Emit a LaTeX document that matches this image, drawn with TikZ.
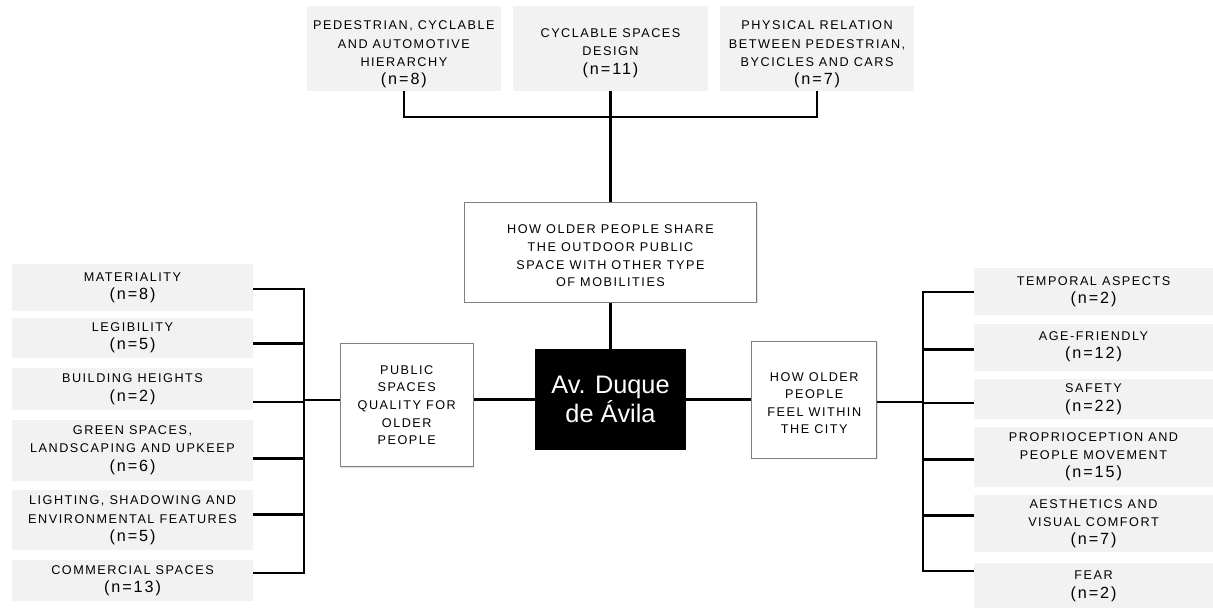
\documentclass[tikz,border=0pt]{standalone}
\usepackage{fontspec}
\setmainfont{Liberation Sans}
\newfontfamily\capsfont{Liberation Sans}[LetterSpace=12]
\usetikzlibrary{positioning, shadows}
\definecolor{itemGray}{RGB}{242, 242, 242}
\definecolor{frameGray}{RGB}{128, 128, 128}
\newcommand{\cnt}[1]{{\fontsize{11.5}{13}\selectfont (n=#1)}}
\newcommand{\pad}[1]{\rule{0pt}{#1}}

\begin{document}
\begin{tikzpicture}[
        x=0.025cm, y=-0.025cm,
        item/.style={rectangle, fill=itemGray, text=black, align=center, inner sep=0pt, font=\capsfont\fontsize{9}{13}\selectfont},
        topitem/.style={item, minimum width=4.85cm, minimum height=2.1cm},
        cat/.style={rectangle, draw=frameGray, fill=white, line width=0.6pt, align=center, inner sep=0pt, text=black, font=\capsfont\fontsize{9}{12.5}\selectfont, drop shadow={shadow xshift=0.8pt, shadow yshift=-0.8pt, opacity=0.25}},
        hub/.style={rectangle, fill=black, text=white, minimum width=3.775cm, minimum height=2.525cm, align=center, font=\fontsize{18}{21}\selectfont},
        conn/.style={line width=1.9pt, black}
    ]
        \useasboundingbox (0,0) rectangle (1213,607);

        % Centre
        \node[hub] (av) at (610.5,399.5) {Av. Duque\\de Ávila};
        \node[cat, minimum width=7.3cm, minimum height=2.5cm, above=1.15cm of av] (share) {\pad{11.5pt}HOW OLDER PEOPLE SHARE\\THE OUTDOOR PUBLIC\\SPACE WITH OTHER TYPE\\OF MOBILITIES};
        \node[cat, minimum width=3.325cm, minimum height=3.075cm, left=1.525cm of av, yshift=-4pt] (pub) {PUBLIC\\SPACES\\QUALITY FOR\\OLDER\\PEOPLE};
        \node[cat, minimum width=3.125cm, minimum height=2.925cm, right=1.625cm of av] (feel) {\pad{11.5pt}HOW OLDER\\PEOPLE\\FEEL WITHIN\\THE CITY};

        % Mobilities
        \node[topitem, above=2.775cm of share] (cyc) {\pad{13pt}CYCLABLE SPACES\\DESIGN\\\cnt{11}};
        \node[topitem, left=0.3cm of cyc] (hier) {\pad{15pt}PEDESTRIAN, CYCLABLE\\AND AUTOMOTIVE\\HIERARCHY\\\cnt{8}};
        \node[topitem, right=0.3cm of cyc] (phys) {\pad{15pt}PHYSICAL RELATION\\BETWEEN PEDESTRIAN,\\BYCICLES AND CARS\\\cnt{7}};

        % Public space quality
        \node[item, minimum width=6.025cm, minimum height=1.175cm] (mat) at (132.5,287.5) {MATERIALITY\\\cnt{8}};
        \node[item, minimum width=6.025cm, minimum height=1cm, below=0.15cm of mat] (leg) {LEGIBILITY\\\cnt{5}};
        \node[item, minimum width=6.025cm, minimum height=1.05cm, below=0.25cm of leg] (bld) {BUILDING HEIGHTS\\\cnt{2}};
        \node[item, minimum width=6.025cm, minimum height=1.525cm, below=0.225cm of bld] (grn) {GREEN SPACES,\\LANDSCAPING AND UPKEEP\\\cnt{6}};
        \node[item, minimum width=6.025cm, minimum height=1.5cm, below=0.225cm of grn] (lgt) {LIGHTING, SHADOWING AND\\ENVIRONMENTAL FEATURES\\\cnt{5}};
        \node[item, minimum width=6.025cm, minimum height=1.025cm, below=0.225cm of lgt] (com) {COMMERCIAL SPACES\\\cnt{13}};

        % Feelings
        \node[item, minimum width=5.975cm, minimum height=1.175cm] (tmp) at (1093.5,291.5) {TEMPORAL ASPECTS\\\cnt{2}};
        \node[item, minimum width=5.975cm, minimum height=1.175cm, below=0.2cm of tmp] (age) {AGE-FRIENDLY\\\cnt{12}};
        \node[item, minimum width=5.975cm, minimum height=1cm, below=0.2cm of age] (saf) {SAFETY\\\cnt{22}};
        \node[item, minimum width=5.975cm, minimum height=1.5cm, below=0.175cm of saf] (pro) {PROPRIOCEPTION AND\\PEOPLE MOVEMENT\\\cnt{15}};
        \node[item, minimum width=5.975cm, minimum height=1.425cm, below=0.2cm of pro] (aes) {AESTHETICS AND\\VISUAL COMFORT\\\cnt{7}};
        \node[item, minimum width=5.975cm, minimum height=1.175cm, below=0.25cm of aes] (fear) {FEAR\\\cnt{2}};

        \coordinate (tbus) at (612,117);
        \coordinate (lbus) at (304,400);
        \coordinate (rbus) at (923,402);

        \draw[conn] (hier.south) |- (tbus) -| (phys.south);
        \draw[conn] (cyc.south) -- (cyc.south |- share.north);
        \draw[conn] (share.south) -- (share.south |- av.north);
        \draw[conn] (av.west) -- (av.west -| pub.east);
        \draw[conn] (av.east) -- (av.east -| feel.west);
        \draw[conn] (lbus) -- (lbus -| pub.west);
        \draw[conn] (rbus) -- (rbus -| feel.east);
        \foreach \n/\d in {mat/-0.0375, leg/-0.15, bld/-0.325, grn/-0.2125, lgt/0.15, com/0.1875}
            \draw[conn] ([yshift=\d cm]\n.east) -| (lbus);
        \foreach \n/\d in {tmp/-0.0125, age/-0.0625, saf/-0.1, pro/-0.075, aes/0.2125, fear/0.3875}
            \draw[conn] ([yshift=\d cm]\n.west) -| (rbus);
    \end{tikzpicture}
\end{document}
